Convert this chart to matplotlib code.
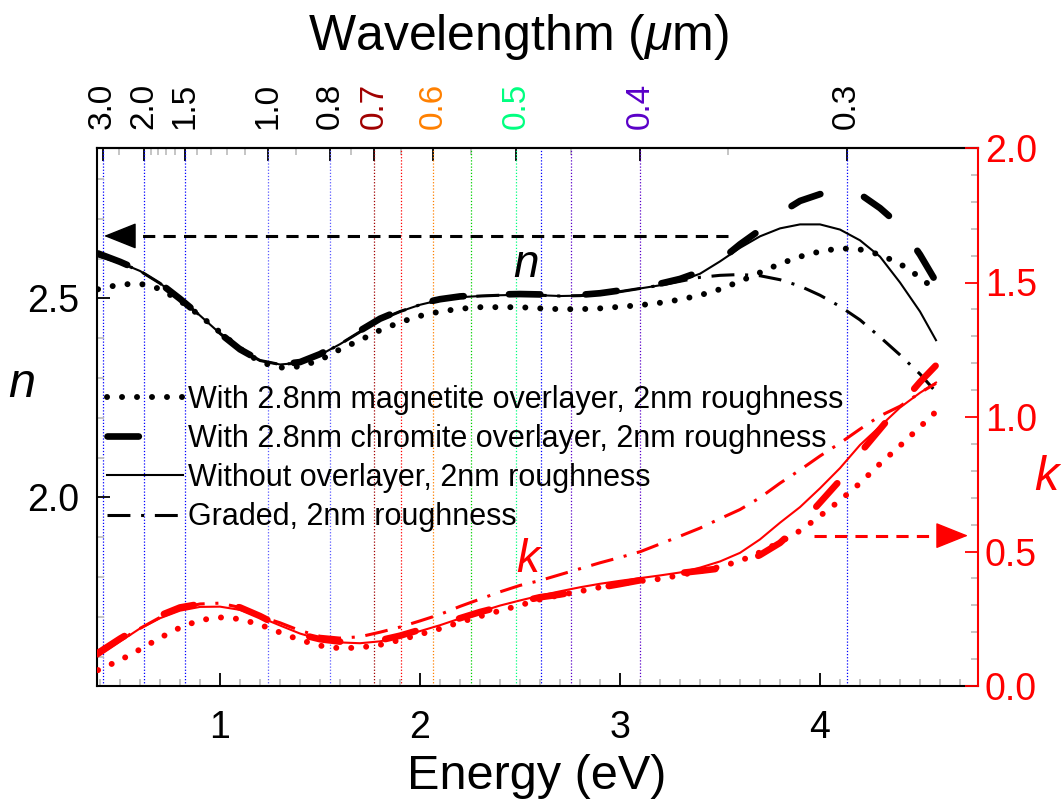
# n and k of the film against photon energy for four surface models
import numpy as np
import matplotlib
matplotlib.use('Agg')
import matplotlib.pyplot as plt
from matplotlib.ticker import MultipleLocator

plt.rcParams['font.family'] = ['Liberation Sans', 'DejaVu Sans']
plt.rcParams['mathtext.fontset'] = 'custom'
plt.rcParams['mathtext.rm'] = 'Liberation Sans'
plt.rcParams['mathtext.it'] = 'Liberation Sans:italic'

HC = 1.23984    # eV * um

energy = [0.39, 0.5, 0.6, 0.7, 0.8, 0.9, 1.0, 1.1, 1.2, 1.3, 1.4, 1.5, 1.6, 1.7,
          1.8, 1.9, 2.0, 2.1, 2.2, 2.3, 2.4, 2.5, 2.6, 2.7, 2.8, 2.9, 3.0, 3.1,
          3.2, 3.3, 3.4, 3.5, 3.6, 3.7, 3.8, 3.9, 4.0, 4.1, 4.2, 4.3, 4.4, 4.5, 4.58]

# refractive index n
n_magnetite = [2.523, 2.535, 2.537, 2.524, 2.494, 2.457, 2.415, 2.374, 2.340, 2.326,
               2.329, 2.345, 2.372, 2.395, 2.420, 2.440, 2.456, 2.467, 2.474, 2.478,
               2.478, 2.478, 2.475, 2.473, 2.473, 2.475, 2.479, 2.483, 2.489, 2.497,
               2.508, 2.523, 2.543, 2.565, 2.587, 2.605, 2.618, 2.626, 2.623, 2.610,
               2.587, 2.553, 2.520]
n_chromite = [2.613, 2.592, 2.570, 2.538, 2.499, 2.457, 2.412, 2.372, 2.344, 2.334,
              2.340, 2.360, 2.387, 2.419, 2.449, 2.470, 2.487, 2.498, 2.505, 2.508,
              2.510, 2.511, 2.510, 2.508, 2.509, 2.513, 2.520, 2.528, 2.537, 2.549,
              2.567, 2.595, 2.636, 2.672, 2.714, 2.745, 2.762, 2.772, 2.762, 2.727,
              2.683, 2.610, 2.542]
n_bare = [2.607, 2.590, 2.569, 2.538, 2.499, 2.457, 2.412, 2.372, 2.344, 2.334,
          2.338, 2.358, 2.385, 2.416, 2.446, 2.467, 2.484, 2.496, 2.503, 2.506,
          2.508, 2.509, 2.508, 2.506, 2.507, 2.511, 2.517, 2.525, 2.533, 2.544,
          2.562, 2.593, 2.627, 2.656, 2.676, 2.686, 2.686, 2.673, 2.646, 2.605,
          2.540, 2.467, 2.395]
n_graded = [2.607, 2.590, 2.569, 2.538, 2.499, 2.457, 2.412, 2.372, 2.344, 2.334,
            2.338, 2.358, 2.385, 2.416, 2.446, 2.467, 2.484, 2.496, 2.503, 2.506,
            2.508, 2.509, 2.508, 2.506, 2.507, 2.511, 2.517, 2.525, 2.533, 2.543,
            2.553, 2.558, 2.560, 2.557, 2.547, 2.531, 2.508, 2.480, 2.446, 2.403,
            2.358, 2.310, 2.265]

# extinction coefficient k
k_magnetite = [0.059, 0.096, 0.136, 0.179, 0.217, 0.245, 0.255, 0.249, 0.228, 0.199,
               0.171, 0.150, 0.140, 0.143, 0.153, 0.171, 0.192, 0.213, 0.237, 0.259,
               0.280, 0.300, 0.322, 0.338, 0.352, 0.367, 0.381, 0.390, 0.398, 0.412,
               0.427, 0.443, 0.465, 0.497, 0.535, 0.577, 0.632, 0.690, 0.754, 0.826,
               0.893, 0.963, 1.020]
k_chromite = [0.123, 0.176, 0.220, 0.262, 0.292, 0.305, 0.306, 0.292, 0.260, 0.222,
              0.192, 0.174, 0.165, 0.163, 0.170, 0.187, 0.209, 0.231, 0.252, 0.275,
              0.294, 0.313, 0.330, 0.340, 0.353, 0.366, 0.379, 0.393, 0.408, 0.420,
              0.428, 0.437, 0.452, 0.487, 0.532, 0.600, 0.682, 0.765, 0.866, 0.955,
              1.044, 1.130, 1.192]
k_bare = [0.110, 0.165, 0.214, 0.252, 0.280, 0.294, 0.295, 0.283, 0.256, 0.225,
          0.195, 0.173, 0.162, 0.159, 0.166, 0.183, 0.204, 0.226, 0.251, 0.276,
          0.299, 0.318, 0.336, 0.352, 0.367, 0.380, 0.391, 0.401, 0.411, 0.422,
          0.440, 0.463, 0.495, 0.545, 0.607, 0.665, 0.735, 0.810, 0.896, 0.965,
          1.035, 1.090, 1.128]
k_graded = [0.130, 0.170, 0.214, 0.255, 0.288, 0.305, 0.308, 0.292, 0.259, 0.235,
            0.206, 0.185, 0.178, 0.183, 0.200, 0.219, 0.242, 0.266, 0.296, 0.323,
            0.350, 0.374, 0.392, 0.414, 0.436, 0.458, 0.478, 0.499, 0.528, 0.557,
            0.587, 0.622, 0.656, 0.700, 0.754, 0.803, 0.855, 0.903, 0.955, 1.004,
            1.040, 1.090, 1.125]

labels = ['With 2.8nm magnetite overlayer, 2nm roughness',
          'With 2.8nm chromite overlayer, 2nm roughness',
          'Without overlayer, 2nm roughness',
          'Graded, 2nm roughness']

# wavelength scale on top (um)
wl_major = [3.0, 2.0, 1.5, 1.0, 0.8, 0.7, 0.6, 0.5, 0.4, 0.3]
wl_label_color = {'0.7': '#a00000', '0.6': '#ff8000', '0.5': '#00ff80', '0.4': '#5a00c8'}
wl_minor = [2.5, 1.9, 1.8, 1.7, 1.6, 1.4, 1.3, 1.2, 1.1, 0.9, 0.75, 0.65, 0.55, 0.45, 0.35]

# dotted guide lines at selected wavelengths
wl_lines = [3.0, 2.0, 1.5, 1.0, 0.8, 0.7, 0.65, 0.6, 0.55, 0.5, 0.476, 0.45, 0.4, 0.3]
wl_line_colors = ['blue', 'blue', 'blue', '#5a5aff', '#5a5aff', '#a00000', 'red',
                  '#ff8000', '#00d000', '#00ff80', 'blue', '#5a00c8', '#5a00c8', 'blue']

# arrows pointing each set of curves to its axis
n_arrow = (3.54, 0.42, 2.657)    # from, to, level
k_arrow = (3.97, 4.74, 0.559)

line_styles = [
    dict(ls=(0, (0.01, 2.5)), lw=4.3, dash_capstyle='round'),
    dict(ls=(0, (4.7, 6.8)), lw=4.8, dash_capstyle='round'),
    dict(ls='-', lw=1.5),
    dict(ls=(0, (7.5, 3.5, 1, 3.5)), lw=2.2),
]

GRAY = '#c0c0c0'
TICK_FS = 27


def to_um(e):
    e = np.asarray(e, dtype=float)
    with np.errstate(divide='ignore'):
        return HC / np.where(e == 0, np.nan, e)


def to_ev(w):
    w = np.asarray(w, dtype=float)
    with np.errstate(divide='ignore'):
        return HC / np.where(w == 0, np.nan, w)


def dashed_arrow(axis, start, end, level, color):
    axis.plot([start, end + 0.1 * np.sign(start - end)], [level, level], color=color,
              lw=2.2, ls=(0, (4, 2.7)), zorder=5)
    axis.annotate('', xy=(end, level), xytext=(end + 0.12 * np.sign(start - end), level),
                  arrowprops=dict(arrowstyle='-|>,head_length=1.05,head_width=0.42',
                                  mutation_scale=20, fc=color, ec=color, lw=1,
                                  shrinkA=0, shrinkB=0), zorder=5)


def main():
    fig = plt.figure(figsize=(10.61, 8), dpi=100)
    ax = fig.add_axes([97 / 1061, 1 - 686 / 800, 881 / 1061, 538 / 800])
    ax2 = ax.twinx()

    for wl, c in zip(wl_lines, wl_line_colors):
        ax.axvline(HC / wl, color=c, ls=(0, (1, 1.5)), lw=0.9, zorder=0.5)

    n_lines = []
    for vals, st, lab in zip([n_magnetite, n_chromite, n_bare, n_graded], line_styles, labels):
        ln, = ax.plot(energy, vals, color='black', label=lab, **st)
        n_lines.append(ln)
    for vals, st in zip([k_magnetite, k_chromite, k_bare, k_graded], line_styles):
        ax2.plot(energy, vals, color='red', **st)

    dashed_arrow(ax, n_arrow[0], n_arrow[1], n_arrow[2], 'black')
    dashed_arrow(ax2, k_arrow[0], k_arrow[1], k_arrow[2], 'red')

    ax.text(2.53, 2.585, 'n', style='italic', fontsize=33, ha='center', va='center')
    ax2.text(2.54, 0.468, 'k', style='italic', fontsize=33, color='red',
             ha='center', va='center')

    ax.set_xlim(0.385, 4.79)
    ax.set_ylim(1.526, 2.878)
    ax2.set_ylim(0, 2.0)

    # bottom and left
    ax.set_xticks([1, 2, 3, 4], labels=['1', '2', '3', '4'])
    ax.xaxis.set_minor_locator(MultipleLocator(0.1))
    ax.set_yticks([2.0, 2.5], labels=['2.0', '2.5'])
    ax.yaxis.set_minor_locator(MultipleLocator(0.1))
    ax.tick_params(axis='x', which='major', direction='in', length=9.5, width=1.3,
                   labelsize=TICK_FS, pad=17, top=False)
    ax.tick_params(axis='y', which='major', direction='in', length=9.5, width=1.3,
                   labelsize=TICK_FS, pad=13, right=False)
    ax.tick_params(which='minor', direction='in', length=5, width=1.3, color=GRAY,
                   top=False, right=False)

    # right (k)
    ax2.set_yticks([0.0, 0.5, 1.0, 1.5, 2.0], labels=['0.0', '0.5', '1.0', '1.5', '2.0'])
    ax2.yaxis.set_minor_locator(MultipleLocator(0.1))
    ax2.tick_params(axis='y', which='major', direction='in', length=9.5, width=1.3,
                    color='red', labelcolor='red', labelsize=TICK_FS, pad=5)
    ax2.tick_params(axis='y', which='minor', direction='in', length=5, width=1.3, color=GRAY)

    # top (wavelength)
    secax = ax.secondary_xaxis('top', functions=(to_um, to_ev))
    secax.set_ticks(wl_major, labels=['%.1f' % w for w in wl_major])
    secax.set_ticks(wl_minor, minor=True)
    secax.tick_params(axis='x', which='major', direction='in', length=9.5, width=1.3,
                      labelsize=24, pad=14, labelrotation=90)
    secax.tick_params(axis='x', which='minor', direction='in', length=5, width=1.3,
                      color=GRAY)
    for lab in secax.xaxis.get_majorticklabels():
        lab.set_color(wl_label_color.get(lab.get_text(), 'black'))

    for sp in ['left', 'bottom', 'top']:
        ax.spines[sp].set_linewidth(1.5)
        ax2.spines[sp].set_visible(False)
    ax.spines['right'].set_visible(False)
    ax2.spines['right'].set_color('red')
    ax2.spines['right'].set_linewidth(1.5)
    secax.spines['top'].set_linewidth(1.5)

    ax.legend(handles=n_lines, loc='upper left', bbox_to_anchor=(0.011, 0.56),
              frameon=False, fontsize=22, handlelength=2.5, handletextpad=0.15,
              labelspacing=0.3, borderpad=0, borderaxespad=0)

    fig.text(0.506, 0.0137, 'Energy (eV)', ha='center', va='baseline', fontsize=35)
    fig.text(0.4887, 0.9375, 'Wavelengthm ($\\mu$m)', ha='center', va='baseline',
             fontsize=36)
    fig.text(22 / 1061, 1 - 385 / 800, 'n', style='italic', fontsize=35,
             ha='center', va='center')
    fig.text(1046 / 1061, 1 - 478 / 800, 'k', style='italic', fontsize=35, color='red',
             ha='center', va='center')

    fig.savefig('out.png', dpi=100)


if __name__ == "__main__":
    main()
